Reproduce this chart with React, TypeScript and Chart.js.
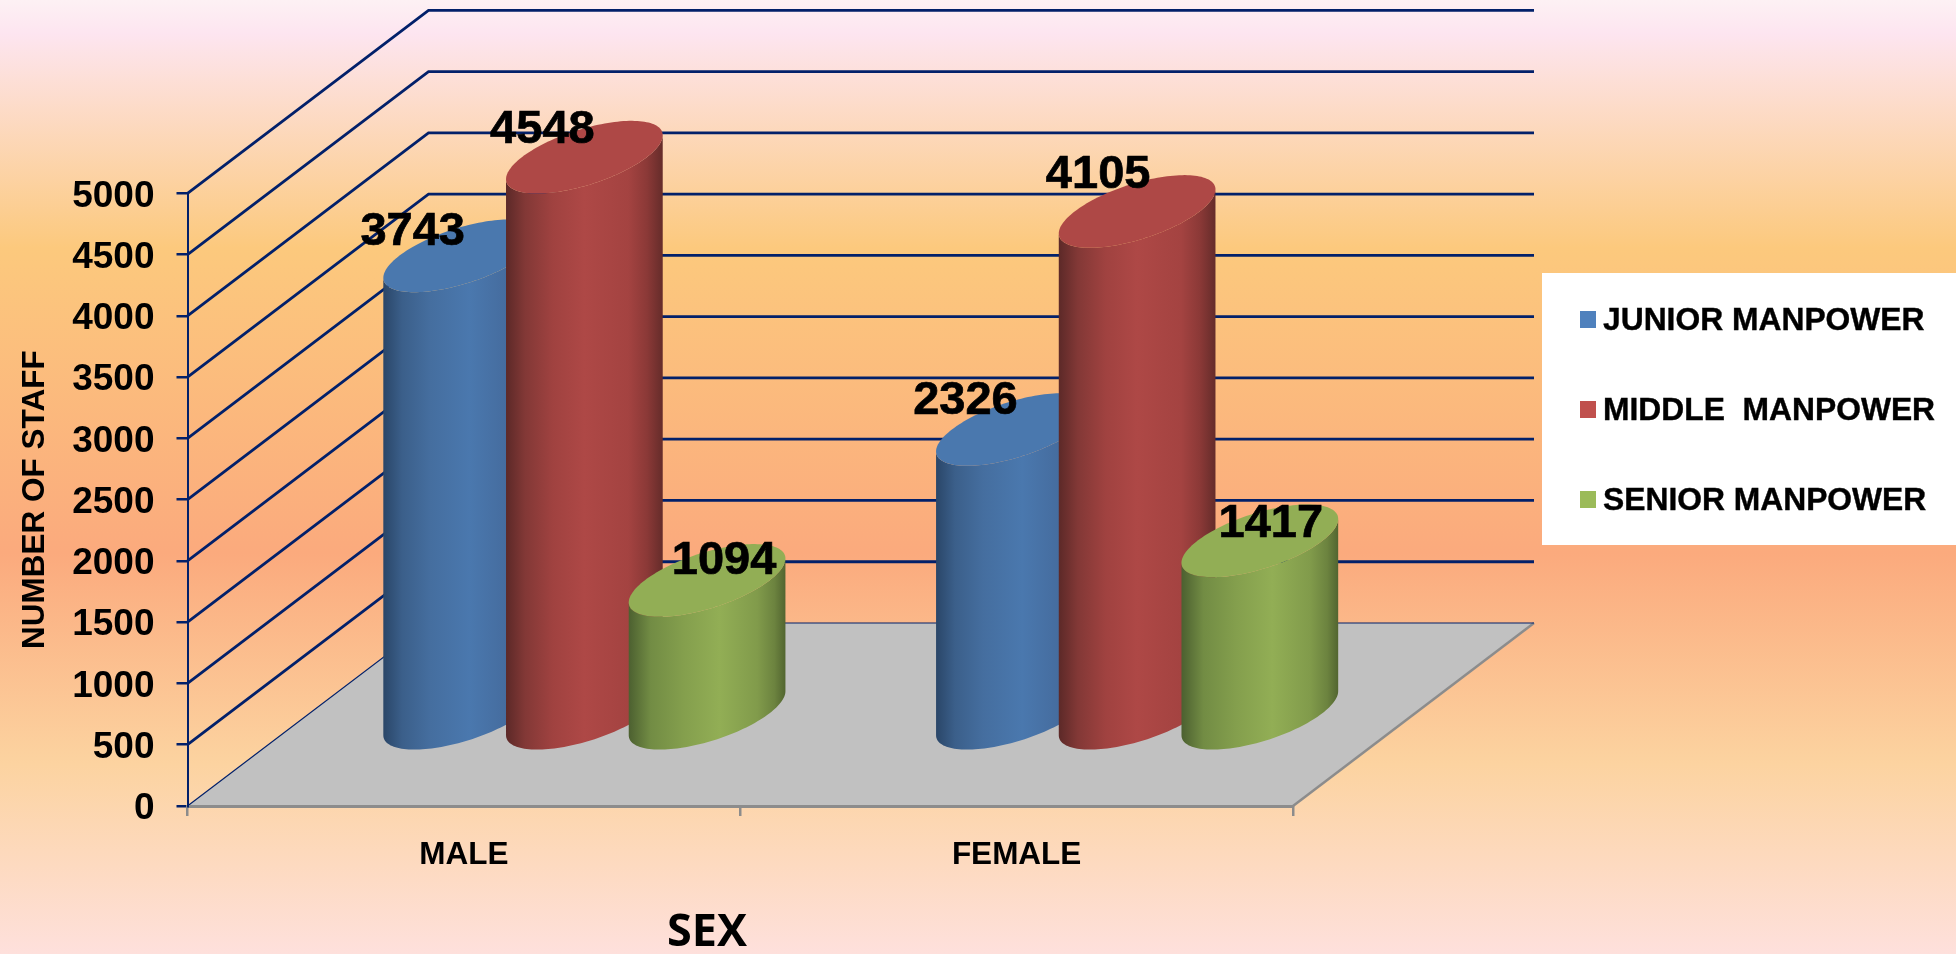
import React, { useEffect, useRef } from "react";
import { Chart, registerables } from "chart.js";

Chart.register(...registerables);

const categories = ["MALE", "FEMALE"];
const juniorManpower = [3743, 2326];
const middleManpower = [4548, 4105];
const seniorManpower = [1094, 1417];
const seriesLabels = ["JUNIOR MANPOWER", "MIDDLE  MANPOWER", "SENIOR MANPOWER"];
const seriesValues = [juniorManpower, middleManpower, seniorManpower];
const yTickStep = 500;
const yMax = 5000;

const NAVY = "#02206a";
const GREY = "#8c8c8c";
const FONT = '"Liberation Sans", Arial, sans-serif';
const DEPTH_X = 241;
const DEPTH_Y = 183;
const SWATCHES = ["#4f81bd", "#c0504d", "#9bbb59"];
const TOPS = ["#4a78ae", "#ae4846", "#92ae55"];
const SHADES: [number, string][][] = [
  [[0, "#2a4668"], [0.12, "#3b5f8a"], [0.3, "#456e9f"], [0.55, "#4a78ae"], [0.85, "#44699a"], [1, "#3d5f8c"]],
  [[0, "#5c2928"], [0.12, "#823836"], [0.3, "#a04240"], [0.5, "#ae4846"], [0.78, "#a44341"], [0.9, "#8b3937"], [1, "#652c2a"]],
  [[0, "#4c6030"], [0.14, "#728c44"], [0.35, "#849f4d"], [0.58, "#92ae55"], [0.82, "#819b4b"], [0.93, "#6c833f"], [1, "#526530"]],
];
// label nudges relative to each cylinder's top centre, per series then category
const LABEL_DX = [[-49, -49], [-42, -39], [17, 11]];
const LABEL_DY = [[-27, -31], [-30, -39], [-22, -20]];

const scenePlugin = {
  id: "scene3d",
  beforeDraw(chart: any) {
    const { ctx, width, height, scales } = chart;
    const y = scales.y;
    const x = scales.x;
    const g = ctx.createLinearGradient(0, 0, 0, height);
    g.addColorStop(0, "#fdf1f4");
    g.addColorStop(0.035, "#fde5f0");
    g.addColorStop(0.26, "#fcc97d");
    g.addColorStop(0.58, "#fbaa7d");
    g.addColorStop(0.8, "#fcd3a0");
    g.addColorStop(1, "#fee0dc");
    ctx.save();
    ctx.fillStyle = g;
    ctx.fillRect(0, 0, width, height);

    const l = x.left;
    const r = x.right;
    const y0 = y.getPixelForValue(0);
    // floor
    ctx.fillStyle = "#c1c1c1";
    ctx.beginPath();
    ctx.moveTo(l, y0);
    ctx.lineTo(r, y0);
    ctx.lineTo(r + DEPTH_X, y0 - DEPTH_Y);
    ctx.lineTo(l + DEPTH_X, y0 - DEPTH_Y);
    ctx.closePath();
    ctx.fill();
    ctx.strokeStyle = GREY;
    ctx.lineWidth = 2.5;
    ctx.beginPath();
    ctx.moveTo(r, y0);
    ctx.lineTo(r + DEPTH_X, y0 - DEPTH_Y);
    ctx.stroke();

    // grid lines on side and back walls
    ctx.strokeStyle = NAVY;
    y.ticks.forEach((t: any) => {
      const py = y.getPixelForValue(t.value);
      ctx.lineWidth = t.value === 0 ? 1.2 : 2.8;
      ctx.beginPath();
      ctx.moveTo(l, py);
      ctx.lineTo(l + DEPTH_X, py - DEPTH_Y);
      ctx.lineTo(r + DEPTH_X, py - DEPTH_Y);
      ctx.stroke();
    });
    ctx.restore();
  },
  afterDatasetsDraw(chart: any) {
    const { ctx } = chart;
    const cylinders: { cx: number; top: number; base: number; a: number; s: number; b: number; i: number; j: number }[] = [];
    chart.data.datasets.forEach((_: any, i: number) => {
      chart.getDatasetMeta(i).data.forEach((el: any, j: number) => {
        const a = el.width * 0.6385;
        cylinders.push({
          cx: el.x + DEPTH_X / 2,
          top: el.y - DEPTH_Y / 2,
          base: el.base - DEPTH_Y / 2,
          a,
          s: a * 0.28,
          b: a * 0.37,
          i,
          j,
        });
      });
    });
    const pt = (c: any, cy: number, t: number) => {
      const co = Math.cos(t);
      const si = Math.sin(t);
      return [c.cx + c.a * co, cy - c.s * co + c.b * si];
    };

    ctx.save();
    // one category group at a time; series left to right
    for (let j = 0; j < categories.length; j++) {
      cylinders.filter((c) => c.j === j).forEach((c) => {
        const grad = ctx.createLinearGradient(c.cx - c.a, 0, c.cx + c.a, 0);
        SHADES[c.i].forEach(([o, col]) => grad.addColorStop(o, col));
        ctx.fillStyle = grad;
        ctx.beginPath();
        const steps = 72;
        for (let k = 0; k <= steps; k++) {
          const t = Math.PI - (Math.PI * k) / steps;
          const [px, py] = pt(c, c.base, t);
          if (k === 0) ctx.moveTo(px, py);
          else ctx.lineTo(px, py);
        }
        for (let k = 0; k <= steps; k++) {
          const t = (Math.PI * k) / steps;
          const [px, py] = pt(c, c.top, t);
          ctx.lineTo(px, py);
        }
        ctx.closePath();
        ctx.fill();
        ctx.fillStyle = TOPS[c.i];
        ctx.beginPath();
        for (let k = 0; k <= steps * 2; k++) {
          const t = (Math.PI * k) / steps;
          const [px, py] = pt(c, c.top, t);
          if (k === 0) ctx.moveTo(px, py);
          else ctx.lineTo(px, py);
        }
        ctx.closePath();
        ctx.fill();
      });
    }
    // value labels
    ctx.fillStyle = "#000";
    ctx.strokeStyle = "#000";
    ctx.lineWidth = 0.7;
    ctx.font = `bold 47px ${FONT}`;
    ctx.textAlign = "center";
    ctx.textBaseline = "middle";
    cylinders.forEach((c) => {
      const text = String(chart.data.datasets[c.i].data[c.j]);
      const tx = c.cx + LABEL_DX[c.i][c.j];
      const ty = c.top + LABEL_DY[c.i][c.j] + 3;
      ctx.fillText(text, tx, ty);
      ctx.strokeText(text, tx, ty);
    });

    // legend box
    ctx.fillStyle = "#fff";
    ctx.fillRect(1542, 273, 414, 272);
    ctx.font = `bold 31.8px ${FONT}`;
    ctx.textAlign = "left";
    chart.data.datasets.forEach((ds: any, i: number) => {
      const cy = 319.5 + i * 90;
      ctx.fillStyle = SWATCHES[i];
      ctx.fillRect(1580, cy - 8.5, 16, 17);
      ctx.fillStyle = "#000";
      ctx.fillText(ds.label, 1603, cy + 2);
      ctx.lineWidth = 0.4;
      ctx.strokeText(ds.label, 1603, cy + 2);
    });

    // category axis title
    ctx.font = `bold 45px "Open Sans", sans-serif`;
    ctx.textAlign = "center";
    ctx.fillText("SEX", 707, 933);
    ctx.restore();
  },
};

export default function App() {
  const ref = useRef<HTMLCanvasElement>(null);
  useEffect(() => {
    document.body.style.margin = "0";
    const chart = new Chart(ref.current as HTMLCanvasElement, {
      type: "bar",
      data: {
        labels: categories,
        datasets: seriesValues.map((values, i) => ({
          label: seriesLabels[i],
          data: values,
          backgroundColor: "transparent",
          borderWidth: 0,
          categoryPercentage: 0.666,
          barPercentage: 1,
        })),
      },
      options: {
        responsive: false,
        animation: false,
        layout: { padding: { top: 193.3, right: 663, left: 0, bottom: 0 } },
        plugins: { legend: { display: false }, title: { display: false }, tooltip: { enabled: false } },
        scales: {
          x: {
            afterFit: (s: any) => {
              s.height = 148;
            },
            grid: { drawOnChartArea: false, drawTicks: true, tickLength: 10, color: GREY, lineWidth: 2.5, offset: true },
            border: { color: GREY, width: 3 },
            ticks: {
              color: "#000",
              padding: 20,
              maxRotation: 0,
              font: { family: FONT, weight: "bold", size: 31.5 },
            },
          },
          y: {
            min: 0,
            max: yMax,
            afterFit: (s: any) => {
              s.width = 187.5;
            },
            grid: { drawOnChartArea: false, drawTicks: true, tickLength: 11, color: NAVY, lineWidth: 2.5 },
            border: { color: NAVY, width: 2 },
            ticks: {
              stepSize: yTickStep,
              color: "#000",
              padding: 22,
              labelOffset: 3,
              callback: (v: any) => String(v),
              font: { family: FONT, weight: "bold", size: 37 },
            },
            title: {
              display: true,
              text: "NUMBER OF STAFF",
              color: "#000",
              padding: { top: 16, bottom: 0 },
              font: { family: FONT, weight: "bold", size: 31.5 },
            },
          },
        },
      } as any,
      plugins: [scenePlugin],
    });
    return () => chart.destroy();
  }, []);
  return (
    <canvas
      ref={ref}
      width={1956}
      height={954}
      style={{ position: "fixed", left: 0, top: 0, width: 1956, height: 954, display: "block" }}
    />
  );
}
